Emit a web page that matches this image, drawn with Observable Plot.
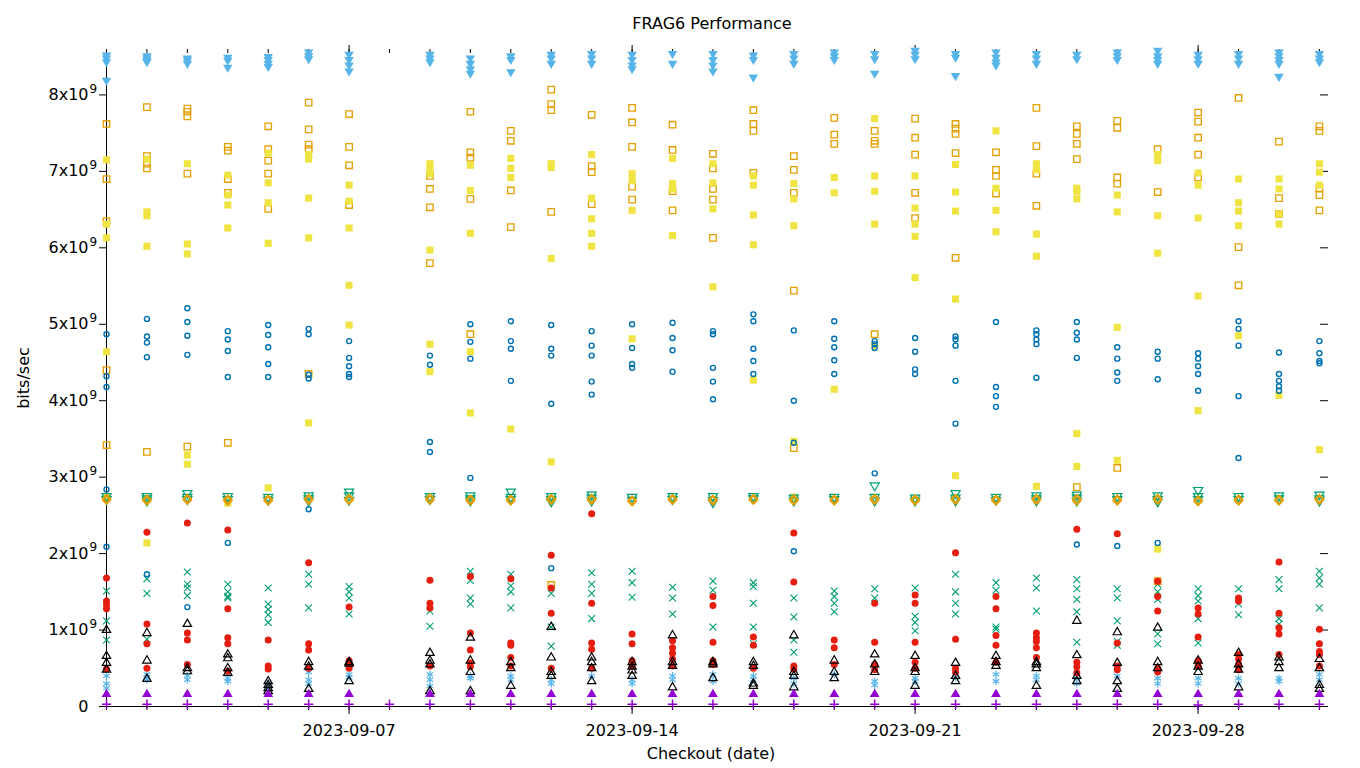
<!DOCTYPE html>
<html><head><meta charset="utf-8">
<script src="https://cdn.jsdelivr.net/npm/d3@7"></script>
<script src="https://cdn.jsdelivr.net/npm/@observablehq/plot@0.6"></script>
<style>
body{margin:0;background:#fff;font-family:"DejaVu Sans",sans-serif;}
#wrap{position:relative;width:1360px;height:768px;overflow:hidden;}
#wrap svg{position:absolute;left:0;top:0;}
.lbl{position:absolute;font-size:16px;line-height:16px;white-space:nowrap;color:#000;}
#title{top:16px;left:712px;transform:translateX(-50%);}
#xlabel{top:746px;left:711px;transform:translateX(-50%);}
#ylabel{top:370px;left:24px;transform:translate(-50%,0) rotate(-90deg);transform-origin:50% 50%;}
</style></head>
<body><div id="wrap"><div class="lbl" id="title">FRAG6 Performance</div><div class="lbl" id="xlabel">Checkout (date)</div><div class="lbl" id="ylabel">bits/sec</div></div>
<script>
const dates = ["2023-09-01","2023-09-02","2023-09-03","2023-09-04","2023-09-05","2023-09-06","2023-09-07","2023-09-08","2023-09-09","2023-09-10","2023-09-11","2023-09-12","2023-09-13","2023-09-14","2023-09-15","2023-09-16","2023-09-17","2023-09-18","2023-09-19","2023-09-20","2023-09-21","2023-09-22","2023-09-23","2023-09-24","2023-09-25","2023-09-26","2023-09-27","2023-09-28","2023-09-29","2023-09-30","2023-10-01"];
const weekTicks = ["2023-09-07","2023-09-14","2023-09-21","2023-09-28"];
const yTicks = [0,1,2,3,4,5,6,7,8];
const yExponent = "9";

// values in units of 10^9 bits/sec, one list per checkout date
const purplePlus = [[0.03],[0.03],[0.03],[0.03],[0.03],[0.03],[0.03],[0.03],[0.03],[0.03],[0.03],[0.03],[0.03],[0.03],[0.03],[0.03],[0.03],[0.03],[0.03],[0.03],[0.03],[0.03],[0.03],[0.03],[0.03],[0.03],[0.03],[0.02],[0.03],[0.03],[0.03]];
const greenTimes = [[1.51,1.12,0.87],[1.67,1.48,0.88],[1.76,1.60,1.55,1.45],[1.60,1.50,1.44,1.42],[1.55,1.34,1.27,1.20,1.10],[1.73,1.60,1.29],[1.57,1.50,1.42,1.21],[],[1.25,1.05],[1.77,1.65,1.42,1.34],[1.73,1.58,1.50,1.29],[1.48,1.04,0.79],[1.75,1.60,1.48,1.15],[1.77,1.62,1.43],[1.56,1.42,1.21],[1.64,1.52,1.04],[1.62,1.57,1.35,1.04,0.82],[1.42,1.17,0.87,0.71],[1.51,1.44,1.35,1.24],[1.54,1.42],[1.55,1.18,1.10,0.99],[1.73,1.50,1.35,1.21],[1.62,1.52,1.04,1.01],[1.68,1.55,1.25],[1.66,1.54,1.40,1.24,0.84],[1.54,1.42,1.12,0.85,0.80],[1.60,1.50,1.40,0.95,0.82],[1.54,1.45,1.38,1.15,0.83],[1.54,1.34,1.20],[1.66,1.54,1.15,1.08],[1.77,1.68,1.60,1.29]];
const blueStar = [[0.40,0.30,0.24],[0.42,0.38,0.35],[0.40,0.35],[0.37,0.33],[0.30,0.25],[0.45,0.35,0.30],[0.42,0.38],[],[0.42,0.35,0.27],[0.40,0.37],[0.40,0.35],[0.35,0.30],[0.40],[0.35,0.30],[0.40,0.35],[0.42,0.33],[0.40,0.35],[0.37,0.30],[0.42],[0.33,0.28],[0.37,0.33],[0.42,0.38],[0.42,0.33],[0.40,0.35],[0.37,0.30],[0.40],[0.37,0.30],[0.37,0.30],[0.37,0.30],[0.37,0.33],[0.42,0.35]];
const orangeSquare = [[7.62,6.90,6.35,4.40,3.42],[7.84,7.20,7.10,7.04,3.33],[7.82,7.78,7.72,6.97,3.40],[7.32,7.27,6.90,6.72,3.45],[7.59,7.29,7.14,6.97,6.51],[7.90,7.55,7.35,7.29,4.35],[7.75,7.32,7.08,6.56],[],[6.94,6.77,6.53,5.80],[7.78,7.25,7.18,6.64,4.87],[7.53,7.40,6.75,6.27],[8.07,7.88,7.80,6.47,1.59],[7.74,7.07,6.99,6.57],[7.83,7.64,7.32,6.80,6.63],[7.61,7.28,6.74,6.49],[7.23,7.04,6.77,6.63,6.13],[7.80,7.62,7.53,6.98],[7.20,7.02,6.72,5.44,3.38],[7.70,7.48,7.36],[7.53,7.40,7.36,4.87],[7.69,7.44,7.22,6.72,6.39],[7.62,7.56,7.49,7.24,5.87],[7.25,7.02,6.94,6.71],[7.83,7.33,6.97,6.55],[7.59,7.49,7.36,7.16,2.87],[7.66,7.57,6.92,6.84,3.12],[7.29,6.73,1.64],[7.77,7.65,7.44,7.22,6.92],[7.96,6.01,5.51],[7.39,6.65,6.44],[7.59,7.53,6.78,6.69,6.49]];
const yellowSquare = [[7.15,6.31,6.13,4.64,2.73],[7.16,6.47,6.42,6.02,2.14],[7.10,6.05,5.92,3.29,3.17],[6.95,6.69,6.56,6.26,2.66],[7.24,6.85,6.59,6.06,2.86],[7.22,7.16,6.65,6.13,3.71],[6.82,6.61,6.26,5.51,4.99],[],[7.10,7.04,6.97,5.97,4.74,4.38],[7.08,6.75,6.19,4.64,3.84],[7.17,7.04,6.92,3.63],[7.10,7.05,5.86,3.20],[7.22,6.65,6.38,6.19,6.02],[6.97,6.88,6.49,4.81],[7.17,6.84,6.77,6.16],[7.10,6.85,6.51,5.49],[6.94,6.82,6.43,6.04,4.27],[6.84,6.64,6.29,3.47,2.74],[6.92,6.72,4.15],[7.69,6.94,6.74,6.31,4.72],[6.94,6.52,6.31,6.15,5.61],[7.09,6.73,6.48,5.33,3.02],[7.53,6.78,6.49,6.21],[7.10,7.02,6.18,5.89,2.88],[6.78,6.74,6.64,3.57,3.14],[6.69,6.47,4.96,3.22],[7.22,7.14,6.42,5.93,2.06],[6.98,6.82,6.39,5.37,3.87],[6.90,6.59,6.48,6.29,4.85],[6.90,6.77,6.44,6.31,4.07],[7.10,6.99,6.82,3.36]];
const blueCircle = [[4.87,4.32,4.18,2.84,2.09],[5.07,4.84,4.76,4.57,1.73],[5.21,5.03,4.85,4.60,1.30],[4.91,4.80,4.65,4.31,2.14],[4.99,4.86,4.70,4.48,4.31],[4.94,4.87,4.34,4.29,2.58],[4.78,4.56,4.45,4.35,4.31],[],[4.59,4.47,3.46,3.33],[5.00,4.77,4.55,2.99],[5.04,4.78,4.68,4.26],[4.99,4.68,4.59,3.96,1.81],[4.91,4.72,4.59,4.25,4.08],[5.00,4.69,4.48,4.43],[5.02,4.82,4.66,4.38],[4.91,4.87,4.43,4.25,4.02],[5.13,5.04,4.68,4.52,4.35],[4.92,4.00,3.45,2.03],[5.04,4.81,4.70,4.53,4.35],[4.78,4.74,4.69,3.05],[4.82,4.64,4.41,4.35],[4.84,4.80,4.72,4.26,3.70],[5.03,4.18,4.06,3.92],[4.92,4.87,4.80,4.74,4.30],[5.03,4.89,4.80,4.56,2.12],[4.70,4.55,4.37,4.26,2.10],[4.64,4.55,4.28,2.14],[4.62,4.55,4.45,4.35,4.13],[5.04,4.94,4.72,4.06,3.25],[4.63,4.35,4.26,4.19,4.13],[4.78,4.62,4.52,4.49]];
const redCircle = [[1.68,1.38,1.33,1.28,0.49],[2.28,1.08,0.82,0.50],[2.40,0.96,0.87,0.55],[2.31,1.28,0.90,0.82,0.46],[0.87,0.53,0.49],[1.88,0.82,0.74,0.50],[1.30,0.60,0.55,0.50],[],[1.65,1.35,1.29,0.53],[1.70,0.96,0.74,0.57,0.52],[1.67,0.83,0.80,0.64,0.53],[1.98,1.55,1.22,0.50],[2.52,1.35,0.83,0.75,0.50],[0.95,0.82,0.60,0.53],[0.86,0.77,0.70,0.62,0.53],[1.44,1.32,0.84,0.60,0.55],[0.91,0.80,0.50],[2.27,1.63,0.53,0.49],[0.87,0.77,0.55],[1.35,0.84,0.55,0.48],[1.46,1.35,0.84,0.58,0.50],[2.01,0.88,0.50,0.45],[1.44,1.28,0.93,0.80,0.58],[0.96,0.90,0.85,0.77,0.64],[2.32,0.58,0.52,0.44],[2.26,0.83,0.53,0.48],[1.64,1.44,1.25,0.50,0.45],[1.29,1.21,0.91,0.60,0.53],[1.42,1.38,0.68,0.62,0.55,0.48],[1.89,1.22,1.03,0.95,0.68],[1.01,0.82,0.72,0.68,0.53]];
const blackTriangle = [[1.00,0.66,0.57,0.48],[0.96,0.60,0.36],[1.08,0.50,0.46],[0.68,0.63,0.50,0.44],[0.33,0.28,0.24,0.20],[0.58,0.52,0.23],[0.58,0.56,0.33],[],[0.70,0.60,0.55,0.20],[0.90,0.60,0.45,0.20],[0.58,0.50,0.27],[1.04,0.64,0.45,0.40],[0.64,0.58,0.50,0.33],[0.58,0.52,0.47,0.40],[0.93,0.58,0.53,0.25],[0.58,0.55,0.37],[0.58,0.53,0.30,0.27],[0.93,0.45,0.40,0.25],[0.60,0.45,0.37],[0.68,0.55,0.45],[0.66,0.50,0.45,0.27],[0.57,0.40,0.33],[0.66,0.58,0.53],[0.58,0.55,0.50,0.27],[1.12,0.67,0.40,0.33],[0.97,0.57,0.33,0.23],[1.03,0.58,0.50],[0.60,0.52,0.45],[0.70,0.55,0.48,0.25],[0.64,0.58,0.50],[0.62,0.50,0.28,0.23]];
const purpleTriangle = [[0.16],[0.16],[0.16],[0.16],[0.16],[0.16],[0.16],[],[0.16],[0.16],[0.16],[0.16],[0.16],[0.16],[0.16],[0.16],[0.16],[0.16],[0.16],[0.16],[0.16],[0.16],[0.16],[0.16],[0.16],[0.16],[0.16],[0.16],[0.16],[0.16],[0.16]];
const greenTriDown = [[2.74,2.70],[2.74,2.71,2.68],[2.78,2.73,2.70],[2.74,2.70],[2.73,2.69],[2.75,2.71,2.68],[2.80,2.75,2.69],[],[2.74,2.70],[2.75,2.71,2.68],[2.80,2.73,2.70],[2.74,2.70,2.67],[2.76,2.72,2.68],[2.73,2.69],[2.74,2.70],[2.74,2.69,2.66],[2.74,2.71],[2.72,2.68],[2.73,2.70],[2.88,2.73,2.68],[2.72,2.68],[2.78,2.72,2.68],[2.73,2.69],[2.75,2.71,2.68],[2.76,2.72,2.68],[2.74,2.70],[2.75,2.70,2.67],[2.82,2.74,2.70],[2.74,2.70],[2.75,2.71],[2.76,2.71,2.68]];
const blueTriDown = [[8.51,8.47,8.42,8.18],[8.50,8.47,8.44,8.42],[8.47,8.44,8.40],[8.48,8.44,8.35],[8.49,8.45,8.40,8.36],[8.55,8.50,8.46],[8.52,8.45,8.38,8.30],[],[8.52,8.47,8.42],[8.47,8.40,8.33,8.27],[8.50,8.45,8.29],[8.52,8.47,8.40],[8.53,8.47,8.40],[8.52,8.45,8.38,8.33],[8.53,8.40],[8.53,8.45,8.38,8.30],[8.51,8.45,8.22],[8.53,8.47,8.40],[8.55,8.50,8.45],[8.53,8.46,8.27],[8.57,8.52,8.46],[8.53,8.48,8.24],[8.55,8.48,8.42,8.38],[8.53,8.47,8.40],[8.52,8.46],[8.55,8.50,8.45],[8.57,8.50,8.45,8.40],[8.52,8.46,8.40],[8.53,8.47,8.40],[8.55,8.50,8.45,8.40,8.23],[8.53,8.47,8.42]];
const orangeDiamond = [[2.72,2.70],[2.71,2.69],[2.72,2.70],[2.71,2.69],[2.71,2.69],[2.72,2.70],[2.72,2.70],[],[2.73,2.70],[2.71,2.69],[2.71,2.69],[2.72,2.70],[2.72,2.70],[2.70,2.68],[2.72,2.70],[2.71,2.69],[2.72,2.70],[2.71,2.69],[2.71,2.69],[2.72,2.70],[2.71,2.69],[2.72,2.70],[2.71,2.69],[2.72,2.70],[2.72,2.69],[2.71,2.69],[2.72,2.70],[2.70,2.68],[2.71,2.69],[2.71,2.69],[2.72,2.70]];

const parse = d3.utcParse("%Y-%m-%d");
const rows = (perDate) => perDate.flatMap((vals, i) => vals.map(v => ({date: parse(dates[i]), value: v})));

const triDown = {draw(ctx, size) { const r = Math.sqrt(size / Math.PI); const w = r * 1.35, t = r * 1.0, b = r * 1.3; ctx.moveTo(-w, -t); ctx.lineTo(w, -t); ctx.lineTo(0, b); ctx.closePath(); }};

const xStart = parse(dates[0]);
const xEnd = new Date(+parse(dates[dates.length - 1]) + 0.2 * 864e5);
const dayDates = dates.map(parse);
const weekDates = weekTicks.map(parse);
const fs = 16;

const chart = Plot.plot({
  width: 1360, height: 768,
  marginTop: 52, marginBottom: 62, marginLeft: 106, marginRight: 33,
  style: {fontFamily: "DejaVu Sans", fontSize: "16px", background: "white"},
  x: {type: "utc", domain: [xStart, xEnd]},
  y: {domain: [0, 8.555]},
  marks: [
    Plot.axisX(dayDates, {anchor: "bottom", tickSize: 4, tickFormat: () => "", label: null}),
    Plot.axisX(weekDates, {anchor: "bottom", tickSize: 8, tickPadding: 10, tickFormat: d3.utcFormat("%Y-%m-%d"), fontSize: fs, label: null}),
    Plot.axisX(dayDates, {anchor: "top", tickSize: 4, tickFormat: () => "", label: null}),
    Plot.axisX(weekDates, {anchor: "top", tickSize: 8, tickFormat: () => "", label: null}),
    Plot.axisY(yTicks, {anchor: "left", tickSize: 7, tickFormat: () => "", label: null}),
    Plot.text(yTicks, {x: () => xStart, y: d => d, text: d => d === 0 ? "0" : `${d}x10`, textAnchor: "end", dx: -18, fontSize: fs}),
    Plot.text(yTicks.filter(d => d > 0), {x: () => xStart, y: d => d, text: () => yExponent, textAnchor: "start", dx: -17, dy: -6, fontSize: 12}),
    Plot.axisY(yTicks, {anchor: "right", tickSize: 8, dx: -8, tickFormat: () => "", label: null}),
    Plot.ruleY([0], {stroke: "black", strokeWidth: 1}),
    Plot.ruleX([xStart], {stroke: "black", strokeWidth: 1}),
    Plot.dot(rows(purplePlus), {x: "date", y: "value", symbol: "plus", r: 3.1, stroke: "#9400D3", strokeWidth: 1.5}),
    Plot.dot(rows(greenTimes), {x: "date", y: "value", symbol: "times", r: 3.2, stroke: "#009E73", strokeWidth: 1.1}),
    Plot.dot(rows(blueStar), {x: "date", y: "value", symbol: "asterisk", r: 3.6, stroke: "#56B4E9", strokeWidth: 1.2}),
    Plot.dot(rows(orangeSquare), {x: "date", y: "value", symbol: "square2", r: 4.1, stroke: "#E69F00", strokeWidth: 1.3, fill: "none"}),
    Plot.dot(rows(yellowSquare), {x: "date", y: "value", symbol: "square", r: 4.0, fill: "#F0E442", stroke: "none"}),
    Plot.dot(rows(blueCircle), {x: "date", y: "value", symbol: "circle", r: 2.5, stroke: "#0072B2", strokeWidth: 1.4, fill: "none"}),
    Plot.dot(rows(redCircle), {x: "date", y: "value", symbol: "circle", r: 3.5, fill: "#E51E10", stroke: "none"}),
    Plot.dot(rows(blackTriangle), {x: "date", y: "value", symbol: "triangle2", r: 4.0, stroke: "black", strokeWidth: 1.2, fill: "none"}),
    Plot.dot(rows(purpleTriangle), {x: "date", y: "value", symbol: "triangle", r: 3.6, fill: "#9400D3", stroke: "none"}),
    Plot.dot(rows(greenTriDown), {x: "date", y: "value", symbol: triDown, r: 3.4, stroke: "#009E73", strokeWidth: 1.2, fill: "none"}),
    Plot.dot(rows(blueTriDown), {x: "date", y: "value", symbol: triDown, r: 3.5, fill: "#56B4E9", stroke: "none"}),
    Plot.dot(rows(orangeDiamond), {x: "date", y: "value", symbol: "diamond2", r: 3.7, stroke: "#E69F00", strokeWidth: 1.4, fill: "none"})
  ]
});
document.getElementById("wrap").prepend(chart);
</script>
</body></html>
